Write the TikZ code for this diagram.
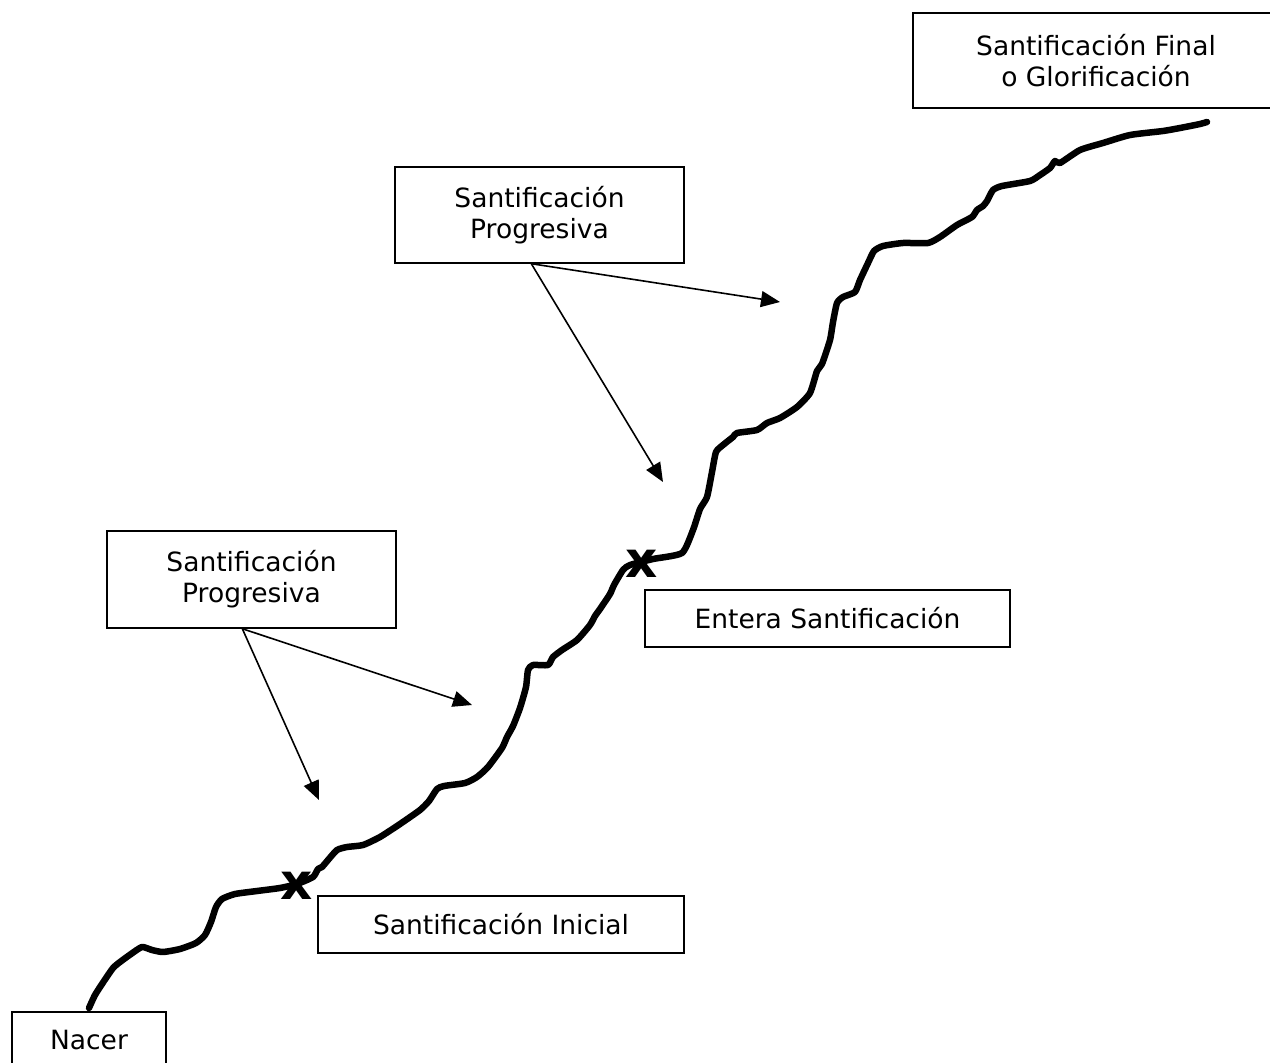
\documentclass[tikz,border=0pt]{standalone}
\usepackage{fontspec}
\setmainfont{DejaVu Sans}
\usetikzlibrary{arrows.meta}
\begin{document}
\begin{tikzpicture}[x=1pt,y=-1pt,
  lbox/.style={draw, line width=1.4pt, inner sep=0pt, align=center,
    font=\fontsize{26.5}{31}\selectfont},
  pointer/.style={line width=1.6pt, -{Triangle[length=19pt,width=16pt]}},
  road/.style={line width=6.5pt, line cap=round, line join=round},
  xmark/.style={inner sep=0pt, font=\fontsize{50}{50}\selectfont\bfseries}]
\useasboundingbox (0,0) rectangle (1270,1063);
\fill[white] (0,0) rectangle (1270,1063);

\node[lbox, minimum width=366pt, minimum height=95pt] (final) at (1096,60.5) {Santificación Final\\o Glorificación};
\node[lbox, minimum width=289pt, minimum height=96pt] (prog2) at (539.5,215) {Santificación\\Progresiva};
\node[lbox, minimum width=289pt, minimum height=97pt] (prog1) at (251.5,579.5) {Santificación\\Progresiva};
\node[lbox, minimum width=365pt, minimum height=57pt] (entera) at (827.5,618.5) {Entera Santificación};
\node[lbox, minimum width=366pt, minimum height=57pt] (inicial) at (501,924.5) {Santificación Inicial};
\node[lbox, minimum width=154pt, minimum height=57pt] (nacer) at (89,1040.5) {Nacer};

\draw[road] plot[smooth, tension=0.35] coordinates {
(89,1008) (95,995) (104,981) (113,968) (120,962) (131,954) (142,947) (152,950)
(163,952) (180,949) (196,943) (205,935) (211,922) (216,907) (222,899) (235,894)
(257,891) (280,888) (297,884) (313,877) (318,869) (322,867) (328,860) (337,850)
(347,847) (363,845) (380,837) (400,824) (420,810) (429,801) (437,789) (444,786)
(465,783) (477,777) (488,767) (502,748) (507,737) (513,726) (520,708) (526,687)
(528,670) (533,665) (548,665) (553,657) (562,650) (577,640) (590,625) (595,616)
(600,609) (610,594) (614,585) (623,570) (630,565) (653,559) (682,553) (693,530)
(700,509) (707,497) (712,472) (716,452) (723,445) (733,437) (737,433) (757,430)
(767,423) (780,418) (797,407) (810,393) (817,371) (822,364) (830,340) (833,322)
(837,303) (843,297) (855,292) (860,280) (868,263) (874,251) (883,246) (903,243)
(928,243) (940,237) (957,225) (972,217) (977,210) (983,206) (987,201) (993,190)
(1002,186) (1030,181) (1040,175) (1050,168) (1055,161) (1060,163) (1080,150)
(1103,143) (1130,135) (1163,131) (1180,128) (1200,124) (1207,122)};

\node[xmark] (x1) at (297,886) {x};
\node[xmark] (x2) at (642,564) {x};

\path (prog2.south west) ++(137,0) coordinate (p2s);
\path (prog1.south west) ++(136,0) coordinate (p1s);
\coordinate (t1) at (780,302);
\coordinate (t2) at (663,482);
\coordinate (t3) at (472,705);
\coordinate (t4) at (319,800);
\draw[pointer] (p2s) -- (t1);
\draw[pointer] (p2s) -- (t2);
\draw[pointer] (p1s) -- (t3);
\draw[pointer] (p1s) -- (t4);
\end{tikzpicture}
\end{document}
